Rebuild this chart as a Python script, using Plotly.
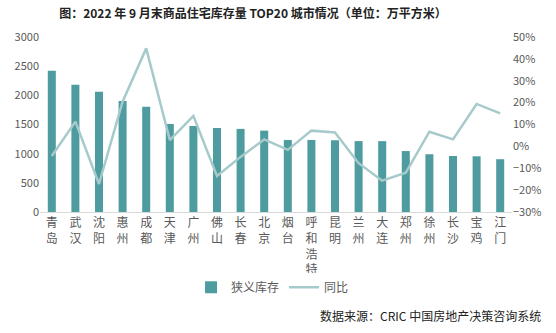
import plotly.graph_objects as go

cities = ["青岛", "武汉", "沈阳", "惠州", "成都", "天津", "广州", "佛山", "长春", "北京",
          "烟台", "呼和浩特", "昆明", "兰州", "大连", "郑州", "徐州", "长沙", "宝鸡", "江门"]
inventory = [2420, 2180, 2060, 1905, 1805, 1510, 1475, 1440, 1425, 1395,
             1235, 1235, 1230, 1215, 1215, 1045, 990, 960, 955, 905]
yoy = [-4.4, 11.3, -17.2, 20.4, 44.8, 2.9, 13.9, -13.5, -4.8, 3.2,
       -1.6, 7.2, 6.4, -7.7, -15.7, -12.0, 6.7, 3.2, 19.4, 15.1]

labels = ["<br>".join(list(c)) for c in cities]

FONT = "Noto Sans CJK SC"
fig = go.Figure()
fig.add_trace(go.Bar(x=labels, y=inventory, name="狭义库存", marker_color="#4E9C9F",
                     marker_line_width=0))
fig.add_trace(go.Scatter(x=labels, y=yoy, name="同比", yaxis="y2", mode="lines",
                         line=dict(color="#A6CACB", width=2.5)))

fig.update_layout(
    width=556, height=333,
    margin=dict(l=40, r=44, t=37, b=121),
    paper_bgcolor="white", plot_bgcolor="white",
    font=dict(family=FONT, size=11, color="#595959"),
    bargap=0.66,
    showlegend=True,
    title=dict(text="<b>图：2022 年 9 月末商品住宅库存量 TOP20 城市情况（单位：万平方米）</b>",
               x=0.455, xanchor="center", y=0.958, yanchor="middle",
               font=dict(family=FONT, size=12, color="#222222")),
    xaxis=dict(showline=True, linecolor="#D9D9D9", linewidth=1, ticks="",
               tickfont=dict(size=12, color="#595959"), tickangle=0),
    yaxis=dict(range=[0, 3000], dtick=500, showgrid=False, zeroline=False,
               ticks="", showline=False, tickfont=dict(size=11, color="#595959")),
    yaxis2=dict(range=[-30, 50], dtick=10, overlaying="y", side="right",
                showgrid=False, zeroline=False, ticksuffix="%",
                tickfont=dict(size=11, color="#595959")),
    legend=dict(orientation="h", x=0.32, xanchor="left", y=-0.43, yanchor="middle",
                font=dict(size=12, color="#595959"), itemwidth=30),
    annotations=[dict(text="数据来源：CRIC 中国房地产决策咨询系统", xref="paper", yref="paper",
                      x=1.066, xanchor="right", y=-0.59, yanchor="middle", showarrow=False,
                      font=dict(family=FONT, size=12, color="#222222"))],
)

fig.write_html("out.html")
